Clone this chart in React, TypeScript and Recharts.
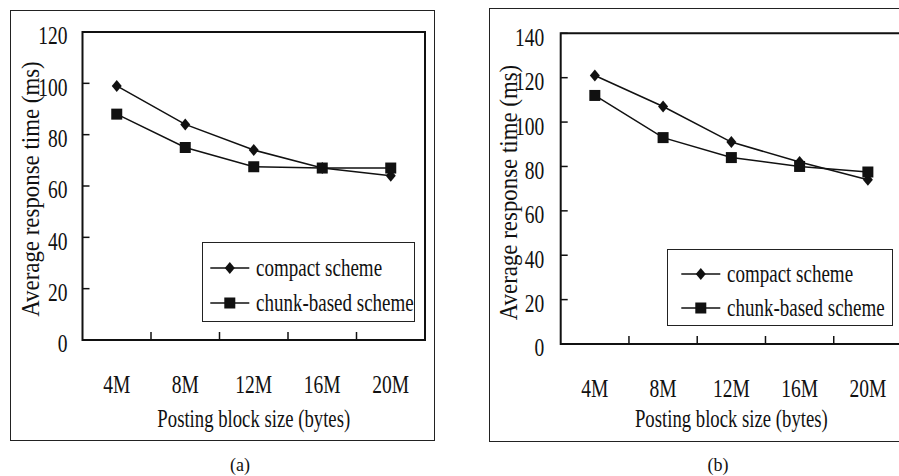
import { LineChart, Line, XAxis, YAxis, ReferenceArea, Legend } from "recharts"

const categories = ["4M", "8M", "12M", "16M", "20M"]
const seriesNames = ["compact scheme", "chunk-based scheme"]

const compactA = [99, 84, 74, 67, 64]
const chunkA = [88, 75, 67.5, 67, 67]
const ticksA = [0, 20, 40, 60, 80, 100, 120]

const compactB = [121, 107, 91, 82, 74]
const chunkB = [112, 93, 84, 80, 77.5]
const ticksB = [0, 20, 40, 60, 80, 100, 120, 140]

const FONT = '"Liberation Serif", "Times New Roman", serif'
const INK = "#111"
const SQUEEZE = 0.75

const buildRows = (compact: number[], chunk: number[]) =>
  categories.map((c, i) => ({ size: c, compact: compact[i], chunk: chunk[i] }))

const Diamond = (props: any) => {
  const { cx, cy } = props
  if (cx == null || cy == null) return null
  return <path d={`M${cx},${cy - 6}L${cx + 5},${cy}L${cx},${cy + 6}L${cx - 5},${cy}Z`} fill={INK} />
}

const Square = (props: any) => {
  const { cx, cy } = props
  if (cx == null || cy == null) return null
  return <rect x={cx - 5.5} y={cy - 5.5} width={11} height={11} fill={INK} />
}

const XTick = (props: any) => {
  const { x, y, payload, width } = props
  const half = payload.offset || width / (categories.length * 2)
  const edge = x - half
  return (
    <g>
      {payload.index > 0 && <line x1={edge} x2={edge} y1={y} y2={y - 8} stroke={INK} strokeWidth={1.5} />}
      <text
        transform={`translate(${x},${y + 53}) scale(${SQUEEZE},1)`}
        textAnchor="middle"
        fontFamily={FONT}
        fontSize={26}
        fill={INK}
      >
        {payload.value}
      </text>
    </g>
  )
}

const makeYTick = (gap: number) => (props: any) => {
  const { x, y, payload } = props
  return (
    <g>
      <line x1={x} x2={x + 7} y1={y} y2={y} stroke={INK} strokeWidth={1.5} />
      <text
        transform={`translate(${x - gap},${y + 4}) scale(${SQUEEZE},1)`}
        textAnchor="end"
        dominantBaseline="central"
        fontFamily={FONT}
        fontSize={26}
        fill={INK}
      >
        {payload.value}
      </text>
    </g>
  )
}

interface PanelProps {
  rows: any[]
  ticks: number[]
  left: number
  width: number
  margin: { top: number; right: number; bottom: number; left: number }
  yAxisWidth: number
  tickGap: number
  yLabelX: number
  yLabelY: number
  xLabelDy: number
  legendBox: { left: number; top: number; width: number; height: number; lineX: number; textX: number; rows: number[] }
}

function Panel(p: PanelProps) {
  const yMax = p.ticks[p.ticks.length - 1]
  const lb = p.legendBox
  const markers = [Diamond, Square]

  const legendContent = () => (
    <div
      style={{
        position: "relative",
        width: lb.width,
        height: lb.height,
        border: "1.5px solid #222",
        boxSizing: "border-box",
        background: "#fff",
      }}
    >
      {seriesNames.map((name, i) => {
        const M = markers[i]
        return (
          <div key={name} style={{ position: "absolute", left: 0, top: lb.rows[i] - 15, height: 30, width: "100%" }}>
            <svg width={lb.textX} height={30} style={{ position: "absolute", left: 0, top: 0 }}>
              <line x1={lb.lineX} x2={lb.lineX + 39} y1={15} y2={15} stroke={INK} strokeWidth={1.5} />
              <M cx={lb.lineX + 19.5} cy={15} />
            </svg>
            <span
              style={{
                position: "absolute",
                left: lb.textX,
                top: 0,
                lineHeight: "30px",
                fontFamily: FONT,
                fontSize: 25,
                color: INK,
                whiteSpace: "nowrap",
                transform: `scaleX(0.76)`,
                transformOrigin: "left center",
              }}
            >
              {name}
            </span>
          </div>
        )
      })}
    </div>
  )

  return (
    <div style={{ position: "absolute", left: p.left, top: 0 }}>
      <LineChart width={p.width} height={476} data={p.rows} margin={p.margin}>
        <XAxis
          dataKey="size"
          scale="band"
          height={30}
          axisLine={false}
          tickLine={false}
          tickSize={0}
          tickMargin={0}
          interval={0}
          tick={<XTick />}
          label={(lp: any) => {
            const vb = lp.viewBox
            return (
              <text
                transform={`translate(${vb.x + vb.width / 2},${vb.y + p.xLabelDy}) scale(0.72,1)`}
                textAnchor="middle"
                fontFamily={FONT}
                fontSize={26}
                fill={INK}
              >
                Posting block size (bytes)
              </text>
            )
          }}
        />
        <YAxis
          width={p.yAxisWidth}
          domain={[0, yMax]}
          ticks={p.ticks}
          interval={0}
          axisLine={false}
          tickLine={false}
          tickSize={0}
          tickMargin={0}
          tick={makeYTick(p.tickGap)}
          label={(lp: any) => {
            const vb = lp.viewBox
            return (
              <text
                transform={`translate(${vb.x + p.yLabelX},${p.yLabelY}) rotate(-90) scale(0.88,1)`}
                textAnchor="middle"
                dominantBaseline="central"
                fontFamily={FONT}
                fontSize={26}
                fill={INK}
              >
                Average response time (ms)
              </text>
            )
          }}
        />
        <ReferenceArea y1={0} y2={yMax} fill="none" stroke={INK} strokeWidth={2} ifOverflow="visible" />
        <Line
          type="linear"
          dataKey="compact"
          name={seriesNames[0]}
          stroke={INK}
          strokeWidth={1.5}
          dot={<Diamond />}
          activeDot={false}
          isAnimationActive={false}
        />
        <Line
          type="linear"
          dataKey="chunk"
          name={seriesNames[1]}
          stroke={INK}
          strokeWidth={1.5}
          dot={<Square />}
          activeDot={false}
          isAnimationActive={false}
        />
        <Legend
          layout="vertical"
          align="center"
          verticalAlign="middle"
          content={legendContent}
          wrapperStyle={{ left: lb.left, top: lb.top, width: lb.width, height: lb.height }}
        />
      </LineChart>
    </div>
  )
}

export default function App() {
  return (
    <div
      style={{
        position: "absolute",
        left: 0,
        top: 0,
        width: 899,
        height: 476,
        overflow: "hidden",
        background: "#fff",
      }}
    >
      <div style={{ position: "absolute", left: 10, top: 10, width: 425, height: 431, border: "1.5px solid #222", boxSizing: "border-box" }} />
      <div style={{ position: "absolute", left: 489, top: 7.5, width: 500, height: 434, border: "1.5px solid #222", boxSizing: "border-box" }} />

      <Panel
        rows={buildRows(compactA, chunkA)}
        ticks={ticksA}
        left={0}
        width={445}
        margin={{ top: 32, right: 20, bottom: 106, left: 0 }}
        yAxisWidth={82.5}
        tickGap={15}
        yLabelX={30}
        yLabelY={189}
        xLabelDy={87}
        legendBox={{ left: 201.7, top: 241.7, width: 213.5, height: 80, lineX: 7.3, textX: 53.3, rows: [25.3, 60.3] }}
      />
      <Panel
        rows={buildRows(compactB, chunkB)}
        ticks={ticksB}
        left={450}
        width={470}
        margin={{ top: 33.3, right: 18, bottom: 102, left: 0 }}
        yAxisWidth={110.7}
        tickGap={16.5}
        yLabelX={58}
        yLabelY={192.5}
        xLabelDy={83}
        legendBox={{ left: 216.7, top: 249.3, width: 226, height: 77, lineX: 13.3, textX: 59.3, rows: [24, 57.4] }}
      />

      <div style={{ position: "absolute", left: 200, top: 453, width: 80, textAlign: "center", fontFamily: FONT, fontSize: 18, lineHeight: "24px", color: INK }}>
        (a)
      </div>
      <div style={{ position: "absolute", left: 678, top: 453, width: 80, textAlign: "center", fontFamily: FONT, fontSize: 18, lineHeight: "24px", color: INK }}>
        (b)
      </div>
    </div>
  )
}
